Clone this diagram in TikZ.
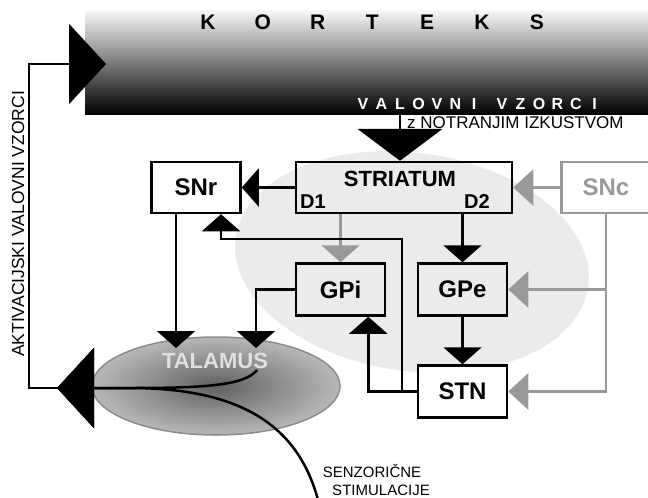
\documentclass[tikz,border=0pt]{standalone}
\usepackage{fontspec}
\setmainfont{Liberation Sans}
\usetikzlibrary{positioning}
\usetikzlibrary{arrows.meta}
\usetikzlibrary{shapes.geometric}

\definecolor{siva}{gray}{0.6}

\begin{document}
\begin{tikzpicture}[x=1pt,y=-1pt,
    blok/.style={draw,line width=2.5pt,minimum width=89pt,minimum height=52pt,inner sep=0pt,
                 font=\fontsize{24}{24}\selectfont\bfseries},
    sivblok/.style={blok,draw=siva,text=siva},
    crta/.style={line width=2.5pt},
    sivacrta/.style={crta,draw=siva},
    mala/.style={-{Triangle[length=17pt,width=38pt]}},
    sivamala/.style={-{Triangle[length=20pt,width=36pt]}},
    velika/.style={-{Triangle[length=37pt,width=80pt]}},
    crka/.style={font=\fontsize{21}{21}\selectfont\bfseries,inner sep=0pt},
    belacrka/.style={text=white,font=\fontsize{16}{16}\selectfont\bfseries,inner sep=0pt}]
        % \draw[help lines,step=50] (0,0) grid (648,498);
      \useasboundingbox (0,0) rectangle (648,498);

      \node[ellipse,fill=black!8,minimum width=356pt,minimum height=218pt,rotate=-8] (ozadje) at (412,262) {};
      \node[anchor=north west,minimum width=563pt,minimum height=104pt,inner sep=0pt,
            top color=black!3,middle color=black!40,bottom color=black] (korteks) at (85,10) {};
      \node[ellipse,draw=black!45,line width=1.5pt,inner color=black!62,outer color=black!28,
            minimum width=248pt,minimum height=98pt] (talamus) at (216,386) {};

      \foreach \c [count=\i from 0] in {K,O,R,T,E,K,S}
        \node[crka] (k\i) at (208+54.8*\i,22) {\c};
      \foreach \c [count=\i from 0] in {V,A,L,O,V,N,I}
        \node[belacrka] (v\i) at (363+18.5*\i,104) {\c};
      \foreach \c [count=\i from 0] in {V,Z,O,R,C,I}
        \node[belacrka] (z\i) at (502+18.5*\i,104) {\c};

      \node[blok,minimum width=216pt,minimum height=51pt] (striatum) at (404,187.5) {};
      \node[blok,minimum height=51pt]                     (snr)      at (196,187.5) {SNr};
      \node[sivblok,minimum height=51pt]                  (snc)      at (606,187.5) {SNc};
      \node[blok]                                         (gpi)      at (340.5,289.5) {GPi};
      \node[blok]                                         (gpe)      at (462.5,289.5) {GPe};
      \node[blok,fill=white]                              (stn)      at (462.5,391.5) {STN};

      \node[font=\fontsize{22}{22}\selectfont\bfseries]  (striatumnapis) at (400,179) {STRIATUM};
      \node[font=\fontsize{20}{20}\selectfont\bfseries]  (d1)            at (313,202) {D1};
      \node[font=\fontsize{20}{20}\selectfont\bfseries]  (d2)            at (477,202) {D2};
      \node[text=white!88!black,font=\fontsize{22}{22}\selectfont\bfseries] (talamusnapis) at (215,361) {TALAMUS};

      \node[rotate=90,font=\fontsize{17.5}{17.5}\selectfont]          (aktivacija) at (18,224) {AKTIVACIJSKI VALOVNI VZORCI};
      \node[anchor=west,inner sep=0pt,font=\fontsize{17}{17}\selectfont] (izkustvo) at (407,123) {z NOTRANJIM IZKUSTVOM};
      \node[inner sep=0pt,font=\fontsize{15}{15}\selectfont]          (senz1) at (372,471.5) {SENZORIČNE};
      \node[inner sep=0pt,font=\fontsize{15}{15}\selectfont]          (senz2) at (381,490) {STIMULACIJE};

      \coordinate (vzorec) at (400,114);
      \coordinate (razcep) at (402,391.5);
      \coordinate (ovinek) at (221,239);
      \coordinate (tal1)   at (176,348);
      \coordinate (tal2)   at (256,348);
      \coordinate (izhod)  at (57,388);
      \coordinate (dotik)  at (257,370);
      \coordinate (senzor) at (318,500);
      \coordinate (vhod)   at (106,64);

      \draw[crta,-{Triangle[length=32pt,width=85pt]}] (vzorec) -- (vzorec |- striatum.north);
      \draw[crta,mala]         (striatum.west) -- (snr.east);
      \draw[sivacrta,sivamala] (snc.west) -- (striatum.east);
      \draw[sivacrta,mala]     (striatum.south -| gpi.north) -- (gpi.north);
      \draw[crta,mala]         (striatum.south -| gpe.north) -- (gpe.north);
      \draw[crta,mala]         (gpe.south) -- (stn.north);
      \draw[sivacrta,sivamala] (snc.south) |- (stn.east);
      \draw[sivacrta,sivamala] (snc.south |- gpe.east) -- (gpe.east);
      \draw[crta,mala]         (stn.west) -| ([xshift=-18pt]gpi.south east);
      \draw[crta,mala]         (razcep) |- (ovinek) -- (ovinek |- snr.south);
      \draw[crta,mala]         (snr.south -| tal1) -- (tal1);
      \draw[crta,mala]         (gpi.west) -| (tal2);

      \draw[crta,velika] (dotik) .. controls (245,386) and (200,388) .. (130,388) -- (izhod);
      \draw[crta,velika] (senzor) .. controls (298,425) and (240,388) .. (130,388) -- (izhod);
      \draw[crta,velika] (izhod) -- ++(-28,0) |- (vhod);
    \end{tikzpicture}
\end{document}
